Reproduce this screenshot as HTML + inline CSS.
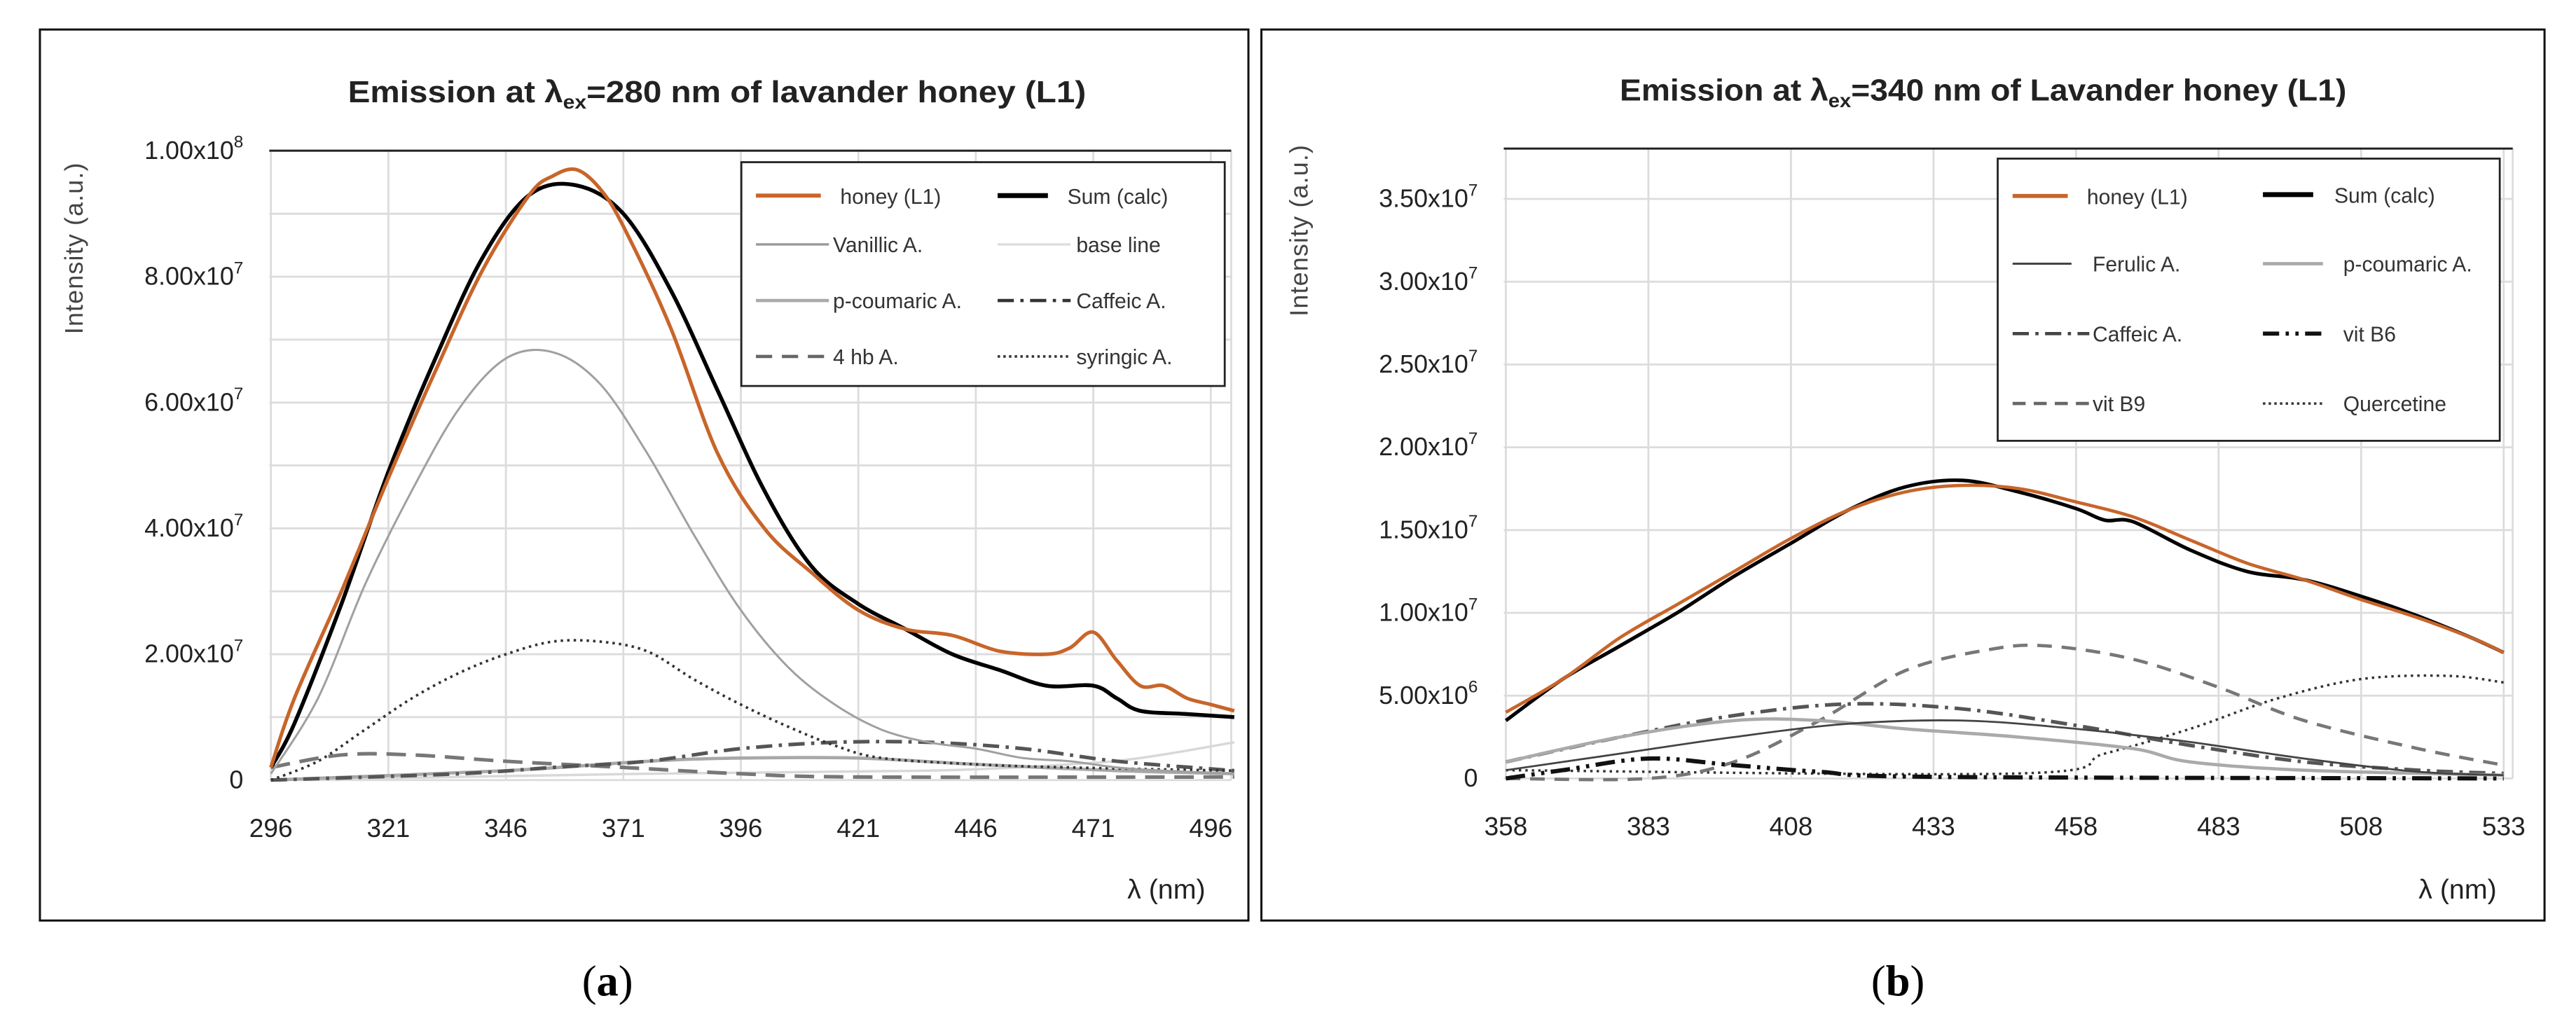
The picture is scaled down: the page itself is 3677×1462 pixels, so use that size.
<!DOCTYPE html>
<html><head><meta charset="utf-8"><style>
html,body{margin:0;padding:0;background:#fff;}
svg{display:block;font-family:"Liberation Sans",sans-serif;}
</style></head><body>
<svg id="chart" width="3677" height="1462" viewBox="0 0 1588 631.4">
<rect x="24.6" y="18.2" width="745" height="549.4" fill="#fff" stroke="#111" stroke-width="1.3"/>
<rect x="777.6" y="18.2" width="791" height="549.4" fill="#fff" stroke="#111" stroke-width="1.3"/>
<g id="pa"></g>
<g id="pb"></g>
<text x="374.5" y="614" font-family="Liberation Serif" font-size="27" text-anchor="middle">(<tspan font-weight="bold">a</tspan>)</text>
<text x="1170" y="614" font-family="Liberation Serif" font-size="27" text-anchor="middle">(<tspan font-weight="bold">b</tspan>)</text>
</svg>
<script>
// ---------- Panel A data (intensity in 1e7 a.u.) ----------
const aTicksX = [296,321,346,371,396,421,446,471,496];
const aTickLabelsY = ["0","2.00x10|7","4.00x10|7","6.00x10|7","8.00x10|7","1.00x10|8"];
const aTicksY = [0,2,4,6,8,10];
const aHoneyX = [296,301,311,321,331,341,351,356,361,366,371,381,391,401,411,421,431,441,451,461,466,471,476,481,486,491,496,501];
const aHoneyY = [0.2,1.3,3.0,4.8,6.5,8.1,9.3,9.6,9.7,9.4,8.8,7.2,5.2,4.0,3.3,2.7,2.4,2.3,2.05,2.0,2.1,2.35,1.9,1.5,1.5,1.3,1.2,1.1];
const aSumX = [296,301,311,321,331,341,351,361,371,381,391,401,411,421,431,441,451,461,471,476,481,491,501];
const aSumY = [0.2,0.9,2.8,4.9,6.7,8.3,9.3,9.45,9.0,7.8,6.2,4.6,3.4,2.8,2.4,2.0,1.75,1.5,1.5,1.3,1.1,1.05,1.0];
const aVanX = [296,306,316,326,336,346,356,366,376,386,396,406,416,426,436,446,456,466,476,486,501];
const aVanY = [0.1,1.3,3.1,4.6,5.9,6.7,6.8,6.3,5.2,3.9,2.7,1.8,1.2,0.8,0.6,0.5,0.35,0.3,0.2,0.15,0.1];
const aBaseX = [296,376,436,466,481,501];
const aBaseY = [0,0.1,0.15,0.25,0.35,0.6];
const aSyrX = [296,306,316,326,336,346,356,366,376,386,396,406,416,426,446,466,501];
const aSyrY = [0,0.3,0.8,1.3,1.7,2.0,2.2,2.2,2.05,1.6,1.2,0.85,0.55,0.35,0.25,0.2,0.15];
const a4hbX = [296,311,326,346,371,396,421,501];
const a4hbY = [0.2,0.4,0.4,0.3,0.2,0.1,0.05,0.05];
const aCafX = [296,336,356,376,396,416,436,456,476,501];
const aCafY = [0,0.1,0.2,0.3,0.5,0.6,0.6,0.5,0.3,0.15];
const aCouX = [296,346,376,396,421,446,476,501];
const aCouY = [0,0.15,0.3,0.35,0.35,0.25,0.15,0.1];
// ---------- Panel B data (1e7 a.u.) ----------
const bTicksX = [358,383,408,433,458,483,508,533];
const bTicksY = [0,0.5,1,1.5,2,2.5,3,3.5];
const bTickLabelsY = ["0","5.00x10|6","1.00x10|7","1.50x10|7","2.00x10|7","2.50x10|7","3.00x10|7","3.50x10|7"];
const bHoneyX = [358,368,378,388,398,408,418,428,438,448,458,468,478,488,498,508,518,528,533];
const bHoneyY = [0.4,0.6,0.85,1.05,1.25,1.45,1.62,1.73,1.77,1.75,1.67,1.58,1.44,1.3,1.2,1.08,0.97,0.84,0.76];
const bSumX = [358,368,378,388,398,408,418,428,438,448,458,463,468,478,488,498,508,518,528,533];
const bSumY = [0.35,0.6,0.8,1.0,1.22,1.42,1.62,1.76,1.8,1.73,1.63,1.56,1.55,1.38,1.25,1.2,1.1,0.98,0.84,0.76];
const bFerX = [358,378,398,418,438,458,478,498,518,533];
const bFerY = [0.05,0.15,0.25,0.33,0.35,0.3,0.22,0.12,0.04,0.02];
const bCouX = [358,378,398,413,428,448,468,478,498,533];
const bCouY = [0.1,0.25,0.35,0.35,0.3,0.25,0.18,0.1,0.05,0.02];
const bCafX = [358,378,398,418,438,458,478,498,518,533];
const bCafY = [0.1,0.25,0.38,0.45,0.42,0.32,0.2,0.1,0.05,0.03];
const bB6X = [358,368,383,398,413,433,533];
const bB6Y = [0,0.05,0.12,0.08,0.04,0.01,0];
const bB9X = [358,383,398,413,428,443,453,468,483,498,518,533];
const bB9Y = [0,0,0.1,0.35,0.65,0.78,0.8,0.72,0.55,0.35,0.18,0.08];
const bQueX = [358,448,463,478,493,508,523,533];
const bQueY = [0.05,0.03,0.15,0.3,0.48,0.6,0.62,0.58];

const NS="http://www.w3.org/2000/svg";
function mk(parent,tag,attrs){const e=document.createElementNS(NS,tag);for(const k in attrs)e.setAttribute(k,attrs[k]);parent.appendChild(e);return e;}
function smoothPath(xs,ys,sx,sy){
  const p=xs.map((x,i)=>[sx(x),sy(ys[i])]);
  let d="M"+p[0][0].toFixed(1)+","+p[0][1].toFixed(1);
  for(let i=0;i<p.length-1;i++){
    const p0=p[Math.max(0,i-1)],p1=p[i],p2=p[i+1],p3=p[Math.min(p.length-1,i+2)];
    const c1=[p1[0]+(p2[0]-p0[0])/6,p1[1]+(p2[1]-p0[1])/6];
    const c2=[p2[0]-(p3[0]-p1[0])/6,p2[1]-(p3[1]-p1[1])/6];
    d+=" C"+c1[0].toFixed(1)+","+c1[1].toFixed(1)+" "+c2[0].toFixed(1)+","+c2[1].toFixed(1)+" "+p2[0].toFixed(1)+","+p2[1].toFixed(1);
  }
  return d;
}
function yLabel(g,x,y,lab){
  const parts=lab.split("|");
  const t=mk(g,"text",{x:x,y:y,"font-size":"15.5","text-anchor":"end",fill:"#222"});
  
  
  t.appendChild(document.createTextNode(parts[0]));
  if(parts[1]){const s=mk(t,"tspan",{"font-size":"10.5",dy:"-7"});s.textContent=parts[1];}
}
function panel(g,cfg){
  const {x0,x1,xmin,yBottom,yTop,ymaxPlot,ypx,ticksX,ticksY,tickLabelsY,minorY}=cfg;
  const sx=v=>cfg.xLeft+(v-xmin)*cfg.xs;
  const sy=v=>yBottom-v*ypx;
  for(let v=0;v<=ymaxPlot+1e-9;v+=minorY){const gl=mk(g,"line",{x1:x0,x2:x1,y1:sy(v),y2:sy(v),stroke:"#dcdcdc","stroke-width":1.2});
    
    }
  ticksX.forEach(v=>{const gl=mk(g,"line",{x1:sx(v),x2:sx(v),y1:yTop,y2:yBottom,stroke:"#dcdcdc","stroke-width":1.2});
    
    
    const t=mk(g,"text",{x:sx(v),y:yBottom+35,"font-size":"16","text-anchor":"middle",fill:"#222"});
    
    
    t.textContent=v;});
  const rg=mk(g,"line",{x1:x1,x2:x1,y1:yTop,y2:yBottom,stroke:"#dcdcdc","stroke-width":1.2});
  
  
  const top=mk(g,"line",{x1:x0,x2:x1,y1:yTop,y2:yTop,stroke:"#222","stroke-width":1.3});
  
  
  ticksY.forEach((v,i)=>yLabel(g,cfg.yLabX,sy(v)+5,tickLabelsY[i]));
  cfg.series.forEach(s=>{
    const p=mk(g,"path",{d:smoothPath(s.x,s.y,sx,sy),fill:"none",stroke:s.c,"stroke-width":s.w,"stroke-dasharray":s.da||"none","stroke-linecap":"butt"});
    
    
  });
}
const pa=document.getElementById("pa"), pb=document.getElementById("pb");
panel(pa,{x0:166,x1:759,xLeft:167,xs:2.897,xmin:296,yBottom:481,yTop:92.9,ymaxPlot:10,ypx:38.8,minorY:1,yLabX:150,
  ticksX:aTicksX,ticksY:aTicksY,tickLabelsY:aTickLabelsY,
  series:[
   {name:'baseline-line',x:aBaseX,y:aBaseY,c:'#d8d8d8',w:1.5},
   {name:'p-coumaric-line',x:aCouX,y:aCouY,c:'#a8a8a8',w:2},
   {name:'4hb-line',x:a4hbX,y:a4hbY,c:'#777',w:2.2,da:'12,6'},
   {name:'caffeic-line',x:aCafX,y:aCafY,c:'#555',w:2.2,da:'10,4,2,4'},
   {name:'syringic-line',x:aSyrX,y:aSyrY,c:'#333',w:1.6,da:'1.5,2.5'},
   {name:'vanillic-line',x:aVanX,y:aVanY,c:'#a0a0a0',w:1.3},
   {name:'sum-calc-line',x:aSumX,y:aSumY,c:'#000',w:2.4},
   {name:'honey-l1-line',x:aHoneyX,y:aHoneyY,c:'#c8652a',w:2.2}
  ]});
panel(pb,{x0:927,x1:1549,xLeft:928.3,xs:3.515,xmin:358,yBottom:480,yTop:91.6,ymaxPlot:3.8,ypx:102.1,minorY:0.5,yLabX:911,
  ticksX:bTicksX,ticksY:bTicksY,tickLabelsY:bTickLabelsY,
  series:[
   {name:'quercetine-line',x:bQueX,y:bQueY,c:'#333',w:1.5,da:'1.5,2.5'},
   {name:'vit-b9-line',x:bB9X,y:bB9Y,c:'#777',w:2,da:'9,6'},
   {name:'vit-b6-line',x:bB6X,y:bB6Y,c:'#111',w:2.6,da:'12,4,2,4,2,4'},
   {name:'caffeic-line',x:bCafX,y:bCafY,c:'#555',w:2.2,da:'10,4,2,4'},
   {name:'p-coumaric-line',x:bCouX,y:bCouY,c:'#aaa',w:2},
   {name:'ferulic-line',x:bFerX,y:bFerY,c:'#444',w:1.2},
   {name:'sum-calc-line',x:bSumX,y:bSumY,c:'#000',w:2.2},
   {name:'honey-l1-line',x:bHoneyX,y:bHoneyY,c:'#c8652a',w:2}
  ]});
</script>
<svg style="position:absolute;left:0;top:0" width="3677" height="1462" viewBox="0 0 1588 631.4">
<g font-family="Liberation Sans, sans-serif" fill="#222">
<text x="442" y="63" font-size="19" font-weight="bold" text-anchor="middle" textLength="455" lengthAdjust="spacingAndGlyphs">Emission at λ<tspan font-size="12" dy="4">ex</tspan><tspan dy="-4">=280 nm of lavander honey (L1)</tspan></text>
<text x="1222.5" y="62" font-size="19" font-weight="bold" text-anchor="middle" textLength="448" lengthAdjust="spacingAndGlyphs">Emission at λ<tspan font-size="12" dy="4">ex</tspan><tspan dy="-4">=340 nm of Lavander honey (L1)</tspan></text>
<text transform="translate(51,153) rotate(-90)" font-size="15.5" text-anchor="middle" fill="#444" letter-spacing="0.5">Intensity (a.u.)</text>
<text transform="translate(806,142) rotate(-90)" font-size="15.5" text-anchor="middle" fill="#444" letter-spacing="0.5">Intensity (a.u.)</text>
<text x="719" y="554" font-size="17" text-anchor="middle">λ (nm)</text>
<text x="1515" y="554" font-size="17" text-anchor="middle">λ (nm)</text>
</g>
<g font-family="Liberation Sans, sans-serif" font-size="13" fill="#333">
<rect x="457" y="100" width="298" height="138" fill="#fff" stroke="#222" stroke-width="1.2"/>
<line x1="466" x2="506" y1="120.6" y2="120.6" stroke="#c8652a" stroke-width="2.5"/><text x="518" y="125.6">honey (L1)</text>
<line x1="615" x2="646" y1="120.6" y2="120.6" stroke="#000" stroke-width="3"/><text x="658" y="125.6">Sum (calc)</text>
<line x1="466" x2="511" y1="150.7" y2="150.7" stroke="#999" stroke-width="1.5"/><text x="513.5" y="155.5">Vanillic A.</text>
<line x1="615" x2="660" y1="150.7" y2="150.7" stroke="#ddd" stroke-width="1.5"/><text x="663.5" y="155.5">base line</text>
<line x1="466" x2="511" y1="185.3" y2="185.3" stroke="#aaa" stroke-width="2"/><text x="513.5" y="190">p-coumaric A.</text>
<line x1="615" x2="660" y1="185.3" y2="185.3" stroke="#333" stroke-width="2" stroke-dasharray="10,4,2,4"/><text x="663.5" y="190">Caffeic A.</text>
<line x1="466" x2="511" y1="219.8" y2="219.8" stroke="#666" stroke-width="2" stroke-dasharray="10,6"/><text x="513.5" y="224.5">4 hb A.</text>
<line x1="615" x2="660" y1="219.8" y2="219.8" stroke="#333" stroke-width="1.6" stroke-dasharray="1.5,2"/><text x="663.5" y="224.5">syringic A.</text>
</g>
<g font-family="Liberation Sans, sans-serif" font-size="13" fill="#333">
<rect x="1231.5" y="97.8" width="309.5" height="174" fill="#fff" stroke="#222" stroke-width="1.2"/>
<line x1="1240.7" x2="1274.7" y1="120.8" y2="120.8" stroke="#c8652a" stroke-width="2.5"/><text x="1286.5" y="125.8">honey (L1)</text>
<line x1="1395" x2="1426" y1="120" y2="120" stroke="#000" stroke-width="3"/><text x="1439" y="125">Sum (calc)</text>
<line x1="1240.7" x2="1277" y1="162.6" y2="162.6" stroke="#444" stroke-width="1.3"/><text x="1290" y="167.4">Ferulic A.</text>
<line x1="1395" x2="1432" y1="162.6" y2="162.6" stroke="#aaa" stroke-width="2"/><text x="1444.5" y="167.4">p-coumaric A.</text>
<line x1="1240.7" x2="1288" y1="205.7" y2="205.7" stroke="#444" stroke-width="2" stroke-dasharray="10,4,2,4"/><text x="1290" y="210.5">Caffeic A.</text>
<line x1="1395" x2="1432" y1="205.7" y2="205.7" stroke="#111" stroke-width="2.5" stroke-dasharray="10,4,2,4,2,4"/><text x="1444.5" y="210.5">vit B6</text>
<line x1="1240.7" x2="1288" y1="248.8" y2="248.8" stroke="#666" stroke-width="2" stroke-dasharray="8,5"/><text x="1290" y="253.6">vit B9</text>
<line x1="1395" x2="1432" y1="248.8" y2="248.8" stroke="#333" stroke-width="1.5" stroke-dasharray="1.5,2"/><text x="1444.5" y="253.6">Quercetine</text>
</g>
</svg>
</body></html>
